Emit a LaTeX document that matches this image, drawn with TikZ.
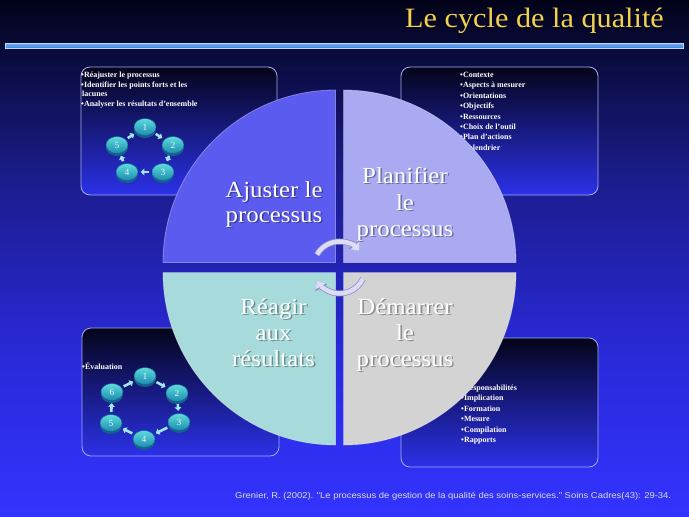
\documentclass[tikz,border=0pt]{standalone}
\usepackage{fontspec}
\setmainfont{Liberation Serif}
\newfontfamily\arialf{Liberation Sans}
\usetikzlibrary{arrows.meta,shapes.geometric}
\definecolor{bgtop}{HTML}{020318}
\definecolor{bghigh}{HTML}{0A0C40}
\definecolor{bgmid}{HTML}{1C1C8E}
\definecolor{bglow}{HTML}{2A2ADC}
\definecolor{bgbot}{HTML}{3333FF}
\definecolor{titlec}{HTML}{F2D24A}
\definecolor{rulefill}{HTML}{3F80DA}
\definecolor{rulehi}{HTML}{6EAAF2}
\definecolor{ruleedge}{HTML}{B8DAFF}
\definecolor{boxtop}{HTML}{04041A}
\definecolor{boxbot}{HTML}{2B31E8}
\definecolor{boxedge}{HTML}{A4ACF0}
\definecolor{qA}{HTML}{5B5BEF}
\definecolor{qB}{HTML}{AAAAF3}
\definecolor{qC}{HTML}{A7DADA}
\definecolor{qD}{HTML}{D3D3D3}
\definecolor{discTop}{HTML}{5EDCDC}
\definecolor{discBot}{HTML}{1C8AB0}
\definecolor{discRim}{HTML}{155F8E}
\definecolor{discText}{HTML}{E6F6F8}
\definecolor{sarr}{HTML}{A2E8F2}
\definecolor{arcC}{HTML}{DCDCF6}
\definecolor{arcE}{HTML}{8A8AC6}
\definecolor{citec}{HTML}{DCDCF0}
\pgfdeclareverticalshading{bgshade}{100bp}{color(0bp)=(bgbot); color(25bp)=(bgbot); color(40bp)=(bglow); color(57.5bp)=(bgmid); color(69bp)=(bghigh); color(75bp)=(bgtop); color(100bp)=(bgtop)}
\newcommand\qline[4]{\node[qsh] (#1s) at (#2,#3) {#4};\node[qtxt] (#1) at (#2,#3) {#4};}
\begin{document}
\begin{tikzpicture}[x=1pt,y=-1pt,
  infobox/.style={draw=boxedge, line width=0.8pt, rounded corners=9pt, top color=boxtop, bottom color=boxbot, inner sep=0},
  btxt/.style={font=\fontsize{8}{10}\selectfont\bfseries, text=white, inner sep=0, anchor=base west},
  qtxt/.style={font=\fontsize{23}{26}\selectfont, text=white, inner sep=0, anchor=base, xscale=1.08},
  qsh/.style={qtxt, text=black, opacity=0.35, xshift=1.4pt, yshift=-1.4pt},
  quad/.style={draw=white, draw opacity=0.35, line width=0.8pt},
  disc/.style={ellipse, minimum width=22, minimum height=17, inner sep=0, top color=discTop, bottom color=discBot, draw=discRim, line width=0.4pt, font=\fontsize{9.5}{10}\selectfont, text=discText, preaction={fill=discRim, transform canvas={yshift=-2.5pt}}},
  sarrow/.style={draw=sarr, line width=2.6pt, -{Triangle[width=6.5pt,length=3.6pt]}, shorten <=2.5pt, shorten >=2.5pt},
  bigarc/.style={draw=arcC, line width=4.5pt, -{Triangle[width=11pt,length=7pt]}, preaction={draw=arcE, line width=6pt, -{Triangle[width=13pt,length=8.5pt]}}}]
\useasboundingbox (0,0) rectangle (689,517);
\fill[shading=bgshade] (0,0) rectangle (689,517);
% title and rule
\node[font=\fontsize{28}{30}\selectfont, text=titlec, anchor=base east, inner sep=0, xscale=1.08] (title) at (664,27) {Le cycle de la qualité};
\node[draw=ruleedge, line width=0.8pt, top color=rulehi, bottom color=rulefill, minimum width=678, minimum height=5, inner sep=0] (rule) at (344.5,46) {};
% boxes
\node[infobox, minimum width=196, minimum height=128] (boxTL) at (179,131) {};
\node[infobox, minimum width=197, minimum height=128] (boxTR) at (499.5,131) {};
\node[infobox, minimum width=197, minimum height=128] (boxBL) at (180.5,392) {};
\node[infobox, minimum width=197, minimum height=129] (boxBR) at (499.5,402.5) {};
% box texts
\node[btxt] (tl1) at (81,77.5) {•Réajuster le processus};
\node[btxt] (tl2) at (81,87.8) {•Identifier les points forts et les};
\node[btxt] (tl3) at (82,96.1) {lacunes};
\node[btxt] (tl4) at (81,106.4) {•Analyser les résultats d’ensemble};
\foreach \t [count=\i from 0] in {Contexte,Aspects à mesurer,Orientations,Objectifs,Ressources,Choix de l’outil,Plan d’actions,Calendrier}
  \node[btxt] (tr\i) at (460,{77.5+10.4*\i}) {•\t};
\foreach \t [count=\i from 0] in {Responsabilités,Implication,Formation,Mesure,Compilation,Rapports}
  \node[btxt] (br\i) at (461,{390.5+10.4*\i}) {•\t};
\node[btxt] (bl1) at (82,369.5) {•Évaluation};
% small cycles
\foreach \n/\px/\py in {1/145/127,2/173/145,3/163/172,4/127/172,5/117/145}
  \node[disc] (a\n) at (\px,\py) {\n};
\foreach \s/\e in {1/2,2/3,3/4,4/5,5/1}
  \draw[sarrow] (a\s) -- (a\e);
\foreach \n/\px/\py in {1/145/376,2/177/393,3/179/422,4/144/439,5/111/423,6/112/392}
  \node[disc] (b\n) at (\px,\py) {\n};
\foreach \s/\e in {1/2,2/3,3/4,4/5,5/6,6/1}
  \draw[sarrow] (b\s) -- (b\e);
% big circle quadrants
\fill[qA, quad] (335.5,262.5) -- ++(-172.5,0) arc[start angle=180,end angle=270,radius=172.5] -- cycle;
\fill[qB, quad] (343.5,262.5) -- ++(0,-172.5) arc[start angle=270,end angle=360,radius=172.5] -- cycle;
\fill[qD, quad] (343.5,272.5) -- ++(172.5,0) arc[start angle=0,end angle=90,radius=172.5] -- cycle;
\fill[qC, quad] (335.5,272.5) -- ++(0,172.5) arc[start angle=90,end angle=180,radius=172.5] -- cycle;
% quadrant texts
\qline{ajA}{274}{197}{Ajuster le}
\qline{ajB}{274}{222.5}{processus}
\qline{plA}{405}{183}{Planifier}
\qline{plB}{405}{210}{le}
\qline{plC}{405}{236.5}{processus}
\qline{reA}{273.5}{314}{Réagir}
\qline{reB}{273.5}{340}{aux}
\qline{reC}{273.5}{366.5}{résultats}
\qline{deA}{405}{314}{Démarrer}
\qline{deB}{405}{340}{le}
\qline{deC}{405}{366.5}{processus}
% centre arrows
\coordinate (ctr) at (339.5,267.5);
\draw[bigarc] (ctr) ++(-150:26) arc[start angle=-150,end angle=-40,radius=26];
\draw[bigarc] (ctr) ++(25:26) arc[start angle=25,end angle=150,radius=26];
% citation
\node[font=\arialf\fontsize{8.5}{10}\selectfont, text=citec, anchor=base west, inner sep=0, xscale=1.11] (cite) at (235,498) {Grenier, R. (2002). "Le processus de gestion de la qualité des soins-services." Soins Cadres(43): 29-34.};
\end{tikzpicture}
\end{document}
